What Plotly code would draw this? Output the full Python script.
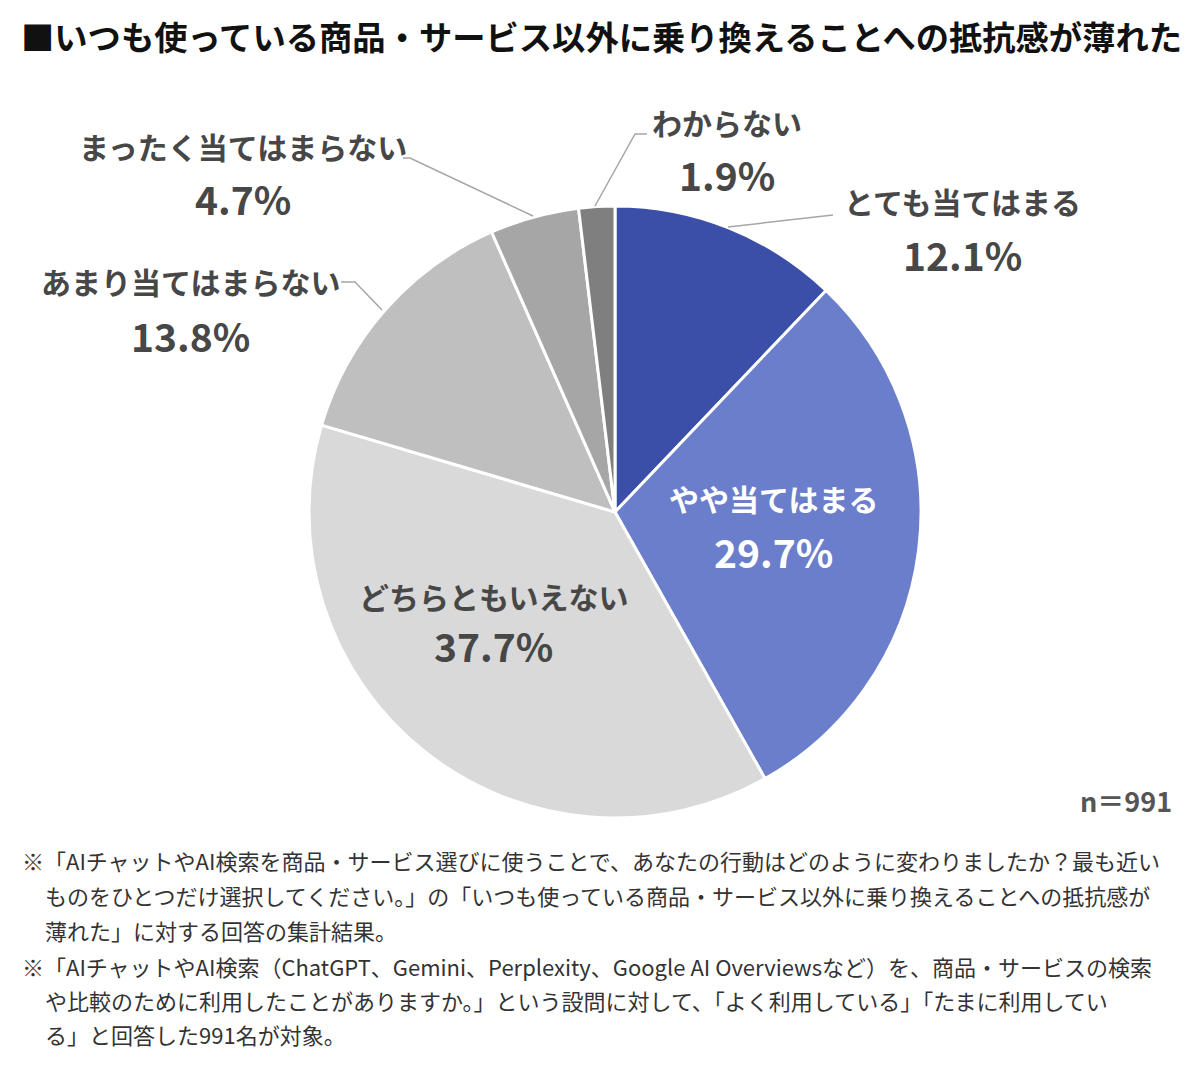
import plotly.graph_objects as go

# ---- data ----
title_text = "■いつも使っている商品・サービス以外に乗り換えることへの抵抗感が薄れた"
categories = ["とても当てはまる", "やや当てはまる", "どちらともいえない",
              "あまり当てはまらない", "まったく当てはまらない", "わからない"]
values = [12.1, 29.7, 37.7, 13.8, 4.7, 1.9]
slice_colors = ["#3B4FA8", "#6B7ECB", "#D9D9D9", "#BFBFBF", "#A6A6A6", "#7F7F7F"]
sample_note = "n＝991"
footnotes = [
    "※「AIチャットやAI検索を商品・サービス選びに使うことで、あなたの行動はどのように変わりましたか？最も近い",
    "ものをひとつだけ選択してください。」の「いつも使っている商品・サービス以外に乗り換えることへの抵抗感が",
    "薄れた」に対する回答の集計結果。",
    "※「AIチャットやAI検索（ChatGPT、Gemini、Perplexity、Google AI Overviewsなど）を、商品・サービスの検索",
    "や比較のために利用したことがありますか。」という設問に対して、「よく利用している」「たまに利用してい",
    "る」と回答した991名が対象。",
]

# ---- layout helpers (page pixel -> paper); page body has an 8px margin ----
W, H = 1200, 1067
OFF = 8
FONT = "Noto Sans CJK JP"
TXT = "#474747"

def px(x):
    return (x - OFF) / W

def py(y):
    return 1 - (y - OFF) / H

cx, cy, r = 615, 512, 306

fig = go.Figure(go.Pie(
    labels=categories,
    values=values,
    sort=False,
    direction="clockwise",
    rotation=0,
    marker=dict(colors=slice_colors, line=dict(color="white", width=3)),
    textinfo="none",
    hoverinfo="label+percent",
    showlegend=False,
    domain=dict(x=[px(cx - r), px(cx + r)], y=[py(cy + r), py(cy - r)]),
))

# label positions (x centre, label y, percent y, colour)
label_pos = [
    (962, 201, 254, TXT),
    (773, 498, 551, "white"),
    (493, 596, 645, TXT),
    (190, 281, 335, TXT),
    (243, 146, 198, TXT),
    (727, 122, 174, TXT),
]

annotations = []
for cat, val, (lx, ly, vy, col) in zip(categories, values, label_pos):
    annotations.append(dict(
        x=px(lx), y=py(ly), xref="paper", yref="paper", text=cat,
        showarrow=False, xanchor="center", yanchor="middle",
        font=dict(family=FONT, size=30, color=col, weight=700)))
    annotations.append(dict(
        x=px(lx), y=py(vy), xref="paper", yref="paper", text=f"{val:.1f}%",
        showarrow=False, xanchor="center", yanchor="middle",
        font=dict(family=FONT, size=39, color=col, weight=700)))

# title
annotations.append(dict(
    x=px(19), y=py(36), xref="paper", yref="paper", text=title_text,
    showarrow=False, xanchor="left", yanchor="middle",
    font=dict(family=FONT, size=33.3, color="#111111", weight=700)))

# sample size
annotations.append(dict(
    x=px(1174), y=py(800), xref="paper", yref="paper", text=sample_note,
    showarrow=False, xanchor="right", yanchor="middle",
    font=dict(family=FONT, size=27, color="#555555", weight=700)))

# footnotes
foot_y = [860, 895, 930, 966, 1000, 1034]
for line, fy in zip(footnotes, foot_y):
    fx = 20 if line.startswith("※") else 43
    annotations.append(dict(
        x=px(fx), y=py(fy), xref="paper", yref="paper", text=line,
        showarrow=False, xanchor="left", yanchor="middle",
        font=dict(family=FONT, size=22, color="#333333")))

# leader lines
leaders = [
    [(728, 227), (833, 215)],
    [(595, 206), (635, 134), (647, 134)],
    [(533, 216), (410, 158), (403, 158)],
    [(382, 310), (355, 282), (341, 282)],
]
shapes = []
for pts in leaders:
    path = "M " + " L ".join(f"{px(x)},{py(y)}" for x, y in pts)
    shapes.append(dict(type="path", xref="paper", yref="paper", path=path,
                       line=dict(color="#A6A6A6", width=1.5)))

fig.update_layout(
    width=W, height=H,
    margin=dict(l=0, r=0, t=0, b=0),
    paper_bgcolor="white", plot_bgcolor="white",
    annotations=annotations, shapes=shapes,
    font=dict(family=FONT),
)

fig.write_html("out.html")
